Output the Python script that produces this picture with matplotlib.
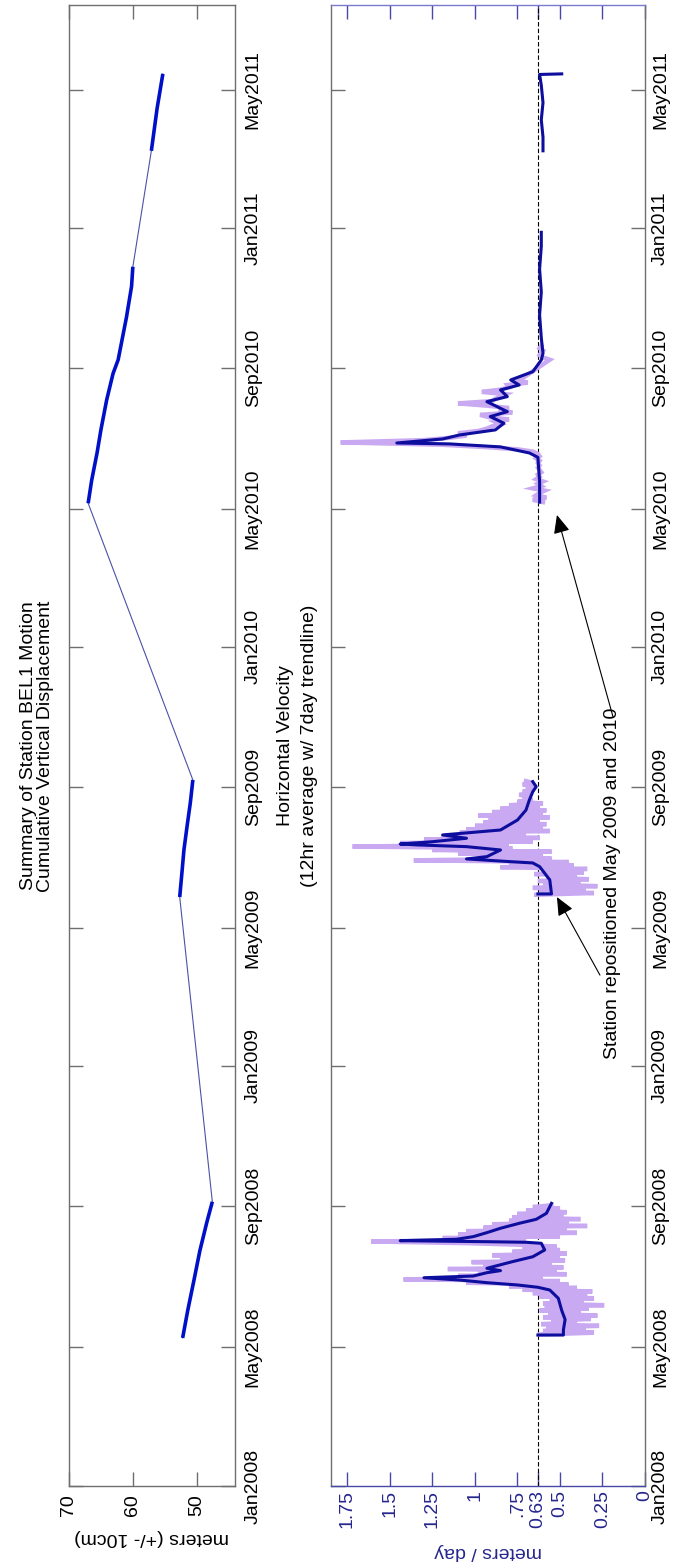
import matplotlib
matplotlib.use("Agg")
import matplotlib.pyplot as plt
import numpy as np

plt.rcParams['font.family'] = ['Liberation Sans', 'DejaVu Sans']

# time axis: days since 2008-01-01
tick_dates = ['2008-01-01', '2008-05-01', '2008-09-01', '2009-01-01', '2009-05-01', '2009-09-01',
              '2010-01-01', '2010-05-01', '2010-09-01', '2011-01-01', '2011-05-01']
tick_labels = ['Jan2008', 'May2008', 'Sep2008', 'Jan2009', 'May2009', 'Sep2009',
               'Jan2010', 'May2010', 'Sep2010', 'Jan2011', 'May2011']
t_end = '2011-07-14'

# cumulative vertical displacement (m), one list per field season
disp_days_08 = [129, 153, 180, 205, 230, 247.6]
disp_08 = [52.2, 51.4, 50.4, 49.5, 48.4, 47.55]
disp_days_09 = [513, 535, 554, 575, 595, 615]
disp_09 = [52.66, 52.3, 52.0, 51.5, 51.0, 50.6]
disp_days_10 = [856, 876, 900, 920, 946, 969, 981, 1018, 1045, 1062]
disp_10 = [67.0, 66.45, 65.6, 65.0, 64.1, 63.1, 62.3, 61.0, 60.2, 60.0]
disp_days_11 = [1163, 1200, 1230]
disp_11 = [57.1, 56.2, 55.3]

# 7 day trendline of horizontal velocity (m/day)
trend_days_08 = [131.5, 131.5, 136, 145, 153, 163.5, 170.7, 173.1, 175.1, 177.1, 179.4, 181.4, 182.9,
                 185.8, 187.6, 189.6, 195.4, 199.7, 205.6, 211.4, 212.3, 212.8, 213.7, 214.9, 217.2,
                 220.7, 224.5, 228.8, 232.3, 237.5, 243.3, 246.2]
trend_08 = [0.63, 0.48, 0.48, 0.47, 0.49, 0.51, 0.56, 0.63, 0.75, 0.93, 1.09, 1.30, 1.01,
            0.93, 0.85, 0.93, 0.78, 0.66, 0.59, 0.61, 0.70, 0.93, 1.44, 1.11, 1.01,
            0.93, 0.85, 0.74, 0.64, 0.58, 0.56, 0.55]
trend_days_09 = [515.7, 515.7, 527.9, 539.5, 542.7, 543.8, 546.2, 548.2, 554.0, 556.9, 558.4, 559.2,
                 561.2, 564.2, 567.1, 571.4, 580.1, 588.8, 597.6, 604.8, 609.1, 613.5]
trend_09 = [0.63, 0.55, 0.56, 0.62, 0.66, 0.79, 1.05, 0.93, 0.85, 1.05, 1.34, 1.44,
            1.25, 1.05, 1.19, 0.85, 0.75, 0.70, 0.68, 0.66, 0.64, 0.66]
trend_days_10 = [857, 875, 896, 899.8, 905.1, 907.7, 908.5, 912, 915.5, 919.9, 925.7, 931.5, 935.8,
                 944.5, 948.9, 954.7, 959, 963.4, 970.6, 980.8, 986.7, 1000, 1020, 1040, 1060, 1080, 1092]
trend_10 = [0.62, 0.62, 0.63, 0.68, 0.85, 1.15, 1.46, 1.19, 1.09, 0.88, 0.83, 0.91, 0.81,
            0.93, 0.81, 0.85, 0.74, 0.79, 0.66, 0.61, 0.60, 0.61, 0.62, 0.61, 0.62, 0.61, 0.61]
trend_days_11 = [1163, 1175, 1190, 1205, 1220, 1229.5, 1230]
trend_11 = [0.60, 0.60, 0.61, 0.60, 0.61, 0.62, 0.49]

# 12hr averages, sampled every 1.5 / 2 days from the season start
raw_start_08, raw_step_08 = 132, 1.5
raw_08 = [0.62, 0.30, 0.60, 0.35, 0.58, 0.27, 0.61, 0.40, 0.55, 0.32, 0.60, 0.28, 0.57, 0.38, 0.62,
          0.33, 0.59, 0.24, 0.60, 0.36, 0.56,
          0.30, 0.62, 0.34, 0.66, 0.31, 0.72, 0.40,
          0.80, 0.45, 1.05, 0.50, 1.42,
          0.60, 1.10, 0.46, 0.98, 0.52, 1.16, 0.48, 0.95, 0.55, 1.02, 0.47, 0.85, 0.50, 0.90, 0.46,
          0.78, 0.50, 0.72, 0.52, 0.70,
          1.05, 1.61, 0.70,
          1.19, 0.50, 1.10, 0.40, 1.05, 0.46, 0.95, 0.34, 0.90, 0.45, 0.80, 0.38, 0.78, 0.48, 0.75,
          0.46, 0.70, 0.50, 0.66, 0.55]
raw_start_09, raw_step_09 = 515, 1.5
raw_09 = [0.64, 0.30, 0.62, 0.35, 0.66, 0.28, 0.60, 0.38, 0.63, 0.33, 0.58, 0.40, 0.65, 0.36, 0.60, 0.34,
          0.85, 0.42, 0.80, 0.45, 1.36, 0.55, 0.95,
          0.60, 1.10, 0.55, 1.25, 0.78, 1.72, 0.80, 1.44, 0.66,
          1.30, 0.62, 1.20, 0.70, 1.09, 0.56, 1.05, 0.60, 1.00, 0.58, 0.95, 0.62,
          0.92, 0.56, 0.98, 0.60, 0.90, 0.58, 0.85, 0.62, 0.80, 0.60, 0.75, 0.66, 0.72,
          0.68, 0.74, 0.66, 0.72, 0.65, 0.70, 0.64, 0.72, 0.66, 0.70]
raw_start_10, raw_step_10 = 857, 2.0
raw_10 = [0.60, 0.66, 0.58, 0.64, 0.62, 0.59, 0.66, 0.61, 0.63, 0.60, 0.64, 0.62, 0.63, 0.61, 0.62,
          0.63, 0.62, 0.63, 0.62, 0.64, 0.62, 0.63,
          0.66, 0.75, 0.95, 1.20, 1.79, 1.30, 1.15, 1.05,
          1.10, 0.98, 0.93, 0.90, 0.85, 0.88, 0.80,
          0.92, 0.97, 0.78, 0.86, 0.80, 0.93, 1.10, 0.90, 0.88, 0.85,
          0.82, 0.96, 0.85, 0.80, 0.81, 0.69, 0.75, 0.72, 0.70, 0.68, 0.66, 0.64,
          0.62, 0.60, 0.58, 0.56, 0.60, 0.62, 0.61, 0.60, 0.62, 0.61]

vel_ticks = [1.75, 1.5, 1.25, 1, 0.75, 0.63, 0.5, 0.25, 0]
vel_labels = ['1.75', '1.5', '1.25', '1', '.75', '0.63', '0.5', '0.25', '0']
mean_vel = 0.63


def day(s):
    return (np.datetime64(s) - np.datetime64('2008-01-01')).astype(int)


tdays = [day(s) for s in tick_dates]
W, H = 673, 1564


def rect(x0, x1, y0, y1):
    return [x0 / W, 1 - y1 / H, (x1 - x0) / W, (y1 - y0) / H]


fig = plt.figure(figsize=(W / 100, H / 100), dpi=100)
ax1 = fig.add_axes(rect(69, 235, 5, 1486))
ax2 = fig.add_axes(rect(331, 645, 5, 1486))

gray = '#6e6e6e'
navy = '#26268e'

for ax in (ax1, ax2):
    ax.set_ylim(0, day(t_end))
    ax.set_yticks(tdays)
    ax.set_yticklabels(tick_labels, rotation=90, va='center', fontsize=14)
    ax.tick_params(axis='y', left=True, right=True, labelleft=False, labelright=True,
                   direction='in', length=10, width=1, color=gray)
    for s in ax.spines.values():
        s.set_color(gray)
        s.set_linewidth(1)

ax1.tick_params(axis='y', pad=7)
ax2.tick_params(axis='y', pad=5)

# vertical displacement
all_days = disp_days_08 + disp_days_09 + disp_days_10 + disp_days_11
all_disp = disp_08 + disp_09 + disp_10 + disp_11
ax1.plot(all_disp, all_days, color='#4a52a8', lw=0.8)
for d, v in [(disp_days_08, disp_08), (disp_days_09, disp_09),
             (disp_days_10, disp_10), (disp_days_11, disp_11)]:
    ax1.plot(v, d, color='#0010c8', lw=2.6, solid_capstyle='butt')
ax1.set_xlim(70, 44)
ax1.set_xticks([70, 60, 50])
ax1.set_xticklabels(['70', '60', '50'], rotation=90, fontsize=14)
ax1.tick_params(axis='x', top=True, bottom=True, direction='in', length=10, width=1,
                color=gray, pad=6)
ax1.set_xlabel('meters (+/- 10cm)', rotation=180, fontsize=14, labelpad=9)

# horizontal velocity
ax2.axvline(mean_vel, color='black', lw=0.8, ls=(0, (4, 2)))
for start, step, vals in [(raw_start_08, raw_step_08, raw_08), (raw_start_09, raw_step_09, raw_09),
                          (raw_start_10, raw_step_10, raw_10)]:
    d = start + step * np.arange(len(vals))
    ax2.plot(vals, d, color='#c9aaf2', lw=3.2, solid_joinstyle='miter')
for d, v in [(trend_days_08, trend_08), (trend_days_09, trend_09),
             (trend_days_10, trend_10), (trend_days_11, trend_11)]:
    ax2.plot(v, d, color='#0d0d9e', lw=2.2)

ax2.set_xlim(1.847, 0)
ax2.set_xticks(vel_ticks)
ax2.set_xticklabels(vel_labels, rotation=90, fontsize=14, color=navy)
ax2.tick_params(axis='x', top=True, bottom=True, direction='in', length=10, width=1,
                color='#4848a8', pad=3)
ax2.spines['bottom'].set_color('#4848a8')
ax2.spines['top'].set_color('#7a7ad0')
ax2.set_xlabel('meters / day', rotation=180, fontsize=14, color=navy, labelpad=11)

ax2.text(0.194, 525, 'Station repositioned May 2009 and 2010', rotation=90,
         ha='center', va='center', fontsize=14)
arrow = dict(arrowstyle='-|>,head_length=0.45,head_width=0.2', mutation_scale=25,
             color='black', lw=0.8, shrinkA=0, shrinkB=0)
ax2.annotate('', xy=(0.518, 845.8), xytext=(0.188, 669.9), arrowprops=arrow)
ax2.annotate('', xy=(0.518, 513), xytext=(0.265, 445), arrowprops=arrow)

# titles sit to the left of each panel
fig.text(28.5 / W, 1 - 746 / H, 'Summary of Station BEL1 Motion', rotation=90,
         ha='center', va='center', fontsize=14)
fig.text(46 / W, 1 - 746 / H, 'Cumulative Vertical Displacement', rotation=90,
         ha='center', va='center', fontsize=14)
fig.text(285 / W, 1 - 746 / H, 'Horizontal Velocity', rotation=90,
         ha='center', va='center', fontsize=14)
fig.text(310 / W, 1 - 746 / H, '(12hr average w/ 7day trendline)', rotation=90,
         ha='center', va='center', fontsize=14)

fig.savefig('out.png', dpi=100)
